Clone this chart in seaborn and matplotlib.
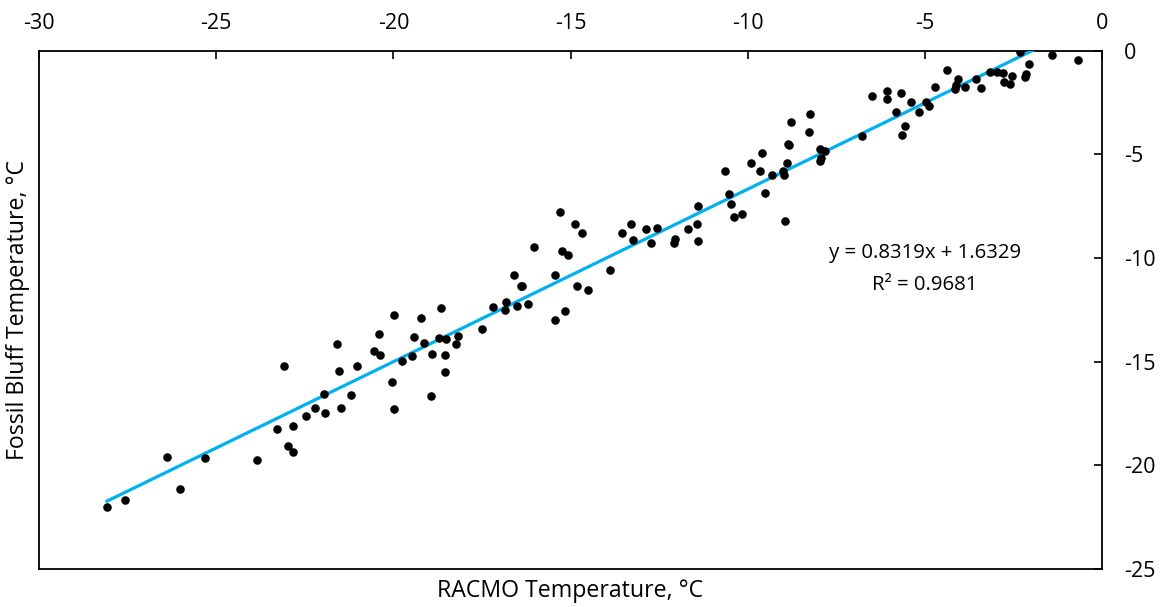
import numpy as np
import matplotlib
matplotlib.use("Agg")
import matplotlib.pyplot as plt
import seaborn as sns

# RACMO vs Fossil Bluff temperatures (°C)
racmo = [
    -28.09, -27.57, -26.38, -26.02, -25.33, -23.86, -23.08, -23.29, -22.98, -22.83,
    -22.83, -22.48, -22.21, -21.96, -21.93, -21.59, -21.54, -21.04, -21.19, -21.48,
    -19.99, -20.41, -20.55, -20.39, -20.03, -19.97, -19.77, -19.47, -19.41, -19.22,
    -19.15, -18.95, -18.91, -18.72, -18.67, -18.51, -18.53, -18.54, -18.22, -18.17,
    -17.49, -17.19, -16.83, -16.86, -16.52, -16.20, -16.61, -16.41, -16.37, -16.02,
    -15.44, -15.15, -15.44, -15.30, -15.23, -15.06, -14.87, -14.69, -14.83, -14.52,
    -13.88, -13.56, -13.29, -13.24, -12.86, -12.72, -12.57, -12.07, -12.04, -11.68,
    -11.44, -11.39, -11.39, -10.63, -10.53, -10.47, -10.38, -10.15, -9.92, -9.66,
    -9.61, -9.52, -9.31, -9.00, -8.98, -8.89, -8.96, -8.87, -8.83, -8.78,
    -8.27, -8.24, -7.97, -7.97, -7.92, -7.81, -6.78, -6.48, -6.08, -6.07,
    -5.81, -5.68, -5.57, -5.66, -5.40, -5.18, -4.98, -4.89, -4.71, -4.37,
    -4.08, -4.11, -4.14, -3.88, -3.55, -3.41, -3.16, -2.96, -2.80, -2.78,
    -2.59, -2.54, -2.17, -2.15, -2.05, -2.33, -1.42, -0.68,
]
fossil_bluff = [
    -22.00, -21.68, -19.62, -21.13, -19.65, -19.75, -15.20, -18.27, -19.09, -19.35,
    -18.11, -17.63, -17.24, -16.57, -17.50, -14.16, -15.45, -15.22, -16.60, -17.26,
    -12.75, -13.68, -14.48, -14.67, -15.96, -17.29, -14.95, -14.71, -13.82, -12.88,
    -14.08, -16.65, -14.63, -13.84, -12.40, -13.89, -14.67, -15.49, -14.14, -13.77,
    -13.44, -12.35, -12.12, -12.51, -12.30, -12.20, -10.82, -11.35, -11.35, -9.48,
    -12.99, -12.54, -10.82, -7.80, -9.66, -9.84, -8.35, -8.78, -11.36, -11.53,
    -10.58, -8.81, -8.38, -9.15, -8.59, -9.26, -8.57, -9.29, -9.10, -8.59,
    -8.35, -7.51, -9.20, -5.82, -6.92, -7.38, -8.04, -7.87, -5.41, -5.82,
    -4.95, -6.88, -6.01, -5.81, -6.01, -5.41, -8.22, -4.49, -4.55, -3.43,
    -3.91, -3.07, -4.76, -5.33, -5.20, -4.86, -4.13, -2.18, -1.97, -2.35,
    -2.95, -2.03, -3.65, -4.09, -2.50, -2.98, -2.48, -2.67, -1.74, -0.95,
    -1.37, -1.66, -1.84, -1.74, -1.37, -1.79, -1.05, -1.05, -1.10, -1.50,
    -1.63, -1.21, -1.26, -1.15, -0.67, -0.09, -0.23, -0.46,
]

# Excel linear trendline as printed on the chart
slope = 0.8319
intercept = 1.6329
r_squared = 0.9681

x_ticks = [-30, -25, -20, -15, -10, -5, 0]
y_ticks = [0, -5, -10, -15, -20, -25]

sns.set_style("white", {"text.color": "black", "xtick.color": "black",
                        "ytick.color": "black"})
plt.rcParams["font.family"] = ["Open Sans", "DejaVu Sans"]

fig = plt.figure(figsize=(11.65, 6.07), dpi=100)
ax = fig.add_axes([0.0335, 0.0626, 0.9125, 0.8542])

trend_x = np.array([min(racmo), max(racmo)])
trend_y = slope * trend_x + intercept
sns.lineplot(x=trend_x, y=trend_y, color="#00B0F0", linewidth=2.3, ax=ax, zorder=3)
sns.scatterplot(x=racmo, y=fossil_bluff, color="black", s=38, edgecolor="black",
                linewidth=0, ax=ax, zorder=4)

ax.set_xlim(-30, 0)
ax.set_ylim(-25, 0)
ax.set_xticks(x_ticks)
ax.set_yticks(y_ticks)
ax.set_xticklabels([str(t) for t in x_ticks])
ax.set_yticklabels([str(t) for t in y_ticks])

ax.xaxis.tick_top()
ax.yaxis.tick_right()
ax.tick_params(axis="x", direction="in", length=5.5, width=1.2, colors="black",
               labelsize=15.5, pad=12, top=True, bottom=False)
ax.tick_params(axis="y", direction="in", length=5.5, width=1.2, colors="black",
               labelsize=15.5, pad=16, right=True, left=False)

for side in ["left", "right", "top", "bottom"]:
    ax.spines[side].set_visible(True)
    ax.spines[side].set_color("black")
    ax.spines[side].set_linewidth(1.3)

ax.set_xlabel("")
ax.set_ylabel("")
fig.text(0.4893, 0.027, "RACMO Temperature, °C", ha="center", va="center",
         fontsize=16.7, color="black")
fig.text(0.0155, 0.489, "Fossil Bluff Temperature, °C", ha="center", va="center",
         rotation=90, fontsize=16.7, color="black")

ax.text(-5.0, -9.75, f"y = {slope}x + {intercept}", ha="center", va="center",
        fontsize=14.7, color="black")
ax.text(-5.0, -11.3, f"R² = {r_squared}", ha="center", va="center",
        fontsize=14.7, color="black")

fig.savefig("out.png", dpi=100)
